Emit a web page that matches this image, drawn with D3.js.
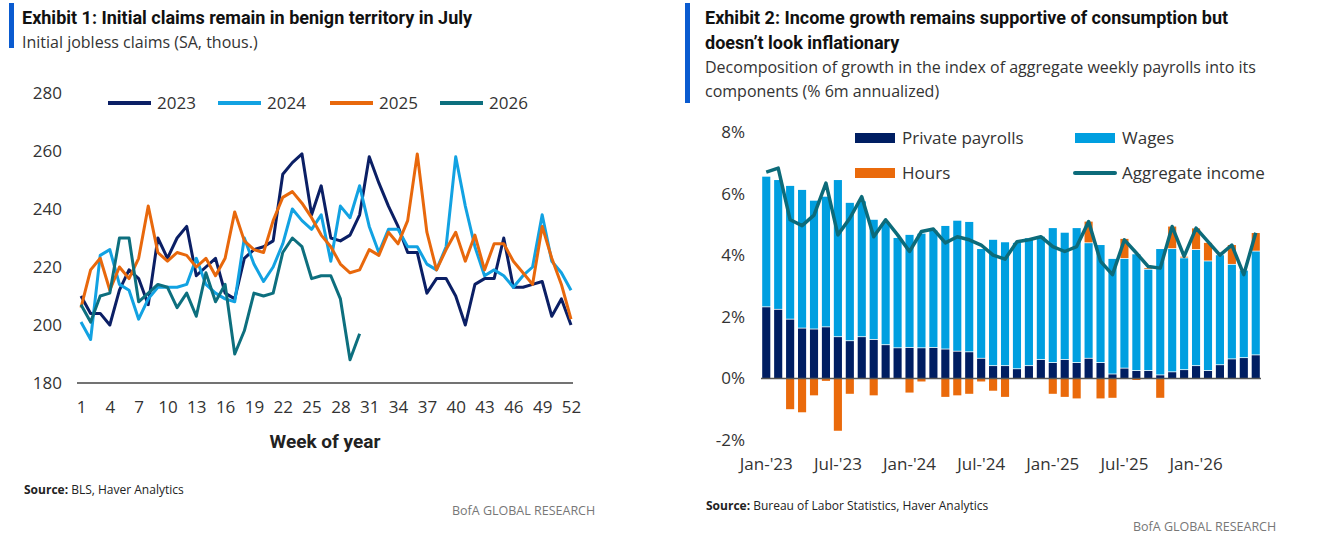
<!DOCTYPE html>
<html><head><meta charset="utf-8">
<script src="https://cdn.jsdelivr.net/npm/d3@7"></script>
<style>
body{margin:0;background:#fff;}
text{font-family:"Open Sans",Roboto,sans-serif;fill:#222;}
.title{font-family:"Liberation Sans Narrow","Roboto",sans-serif;font-weight:bold;font-size:18px;fill:#111;}
.sub{font-size:16px;fill:#333;}
.tick text{font-size:17px;fill:#333;}
.src{font-size:12px;fill:#222;}
.bofa{font-size:12.5px;fill:#777;}
.leg{font-size:17px;fill:#333;}
</style></head><body>
<script>
// ---- Exhibit 1 data: initial claims, thousands, by week of year
const weeks = d3.range(1, 53);
const claims2023 = [210,204,204,200,212,219,216,207,230,223,230,234,217,220,223,211,209,223,226,227,229,252,256,259,238,248,230,229,231,238,258,249,241,234,225,225,211,216,216,210,200,214,216,216,230,213,213,214,215,203,209,200];
const claims2024 = [201,195,224,226,214,212,202,209,213,213,213,214,223,214,211,209,208,230,221,215,220,228,240,236,233,238,222,241,237,248,234,225,233,233,227,227,221,219,227,258,241,227,217,219,217,213,217,220,238,222,218,212];
const claims2025 = [206,219,223,212,220,216,223,241,225,222,225,224,220,223,217,223,239,229,226,225,236,244,246,242,237,231,227,221,218,219,226,224,232,228,236,259,232,219,226,232,222,231,219,228,228,222,218,214,234,223,214,202];
const claims2026 = [207,201,210,211,230,230,208,211,214,213,206,211,203,218,208,214,190,198,211,210,211,225,230,227,216,217,217,209,188,197];
const yearNames = ["2023","2024","2025","2026"];
const yearColors = ["#0b1f65","#12a2e2","#e8680c","#0d6f7e"];
const claimTicks = [180,200,220,240,260,280];
const weekTicks = [1,4,7,10,13,16,19,22,25,28,31,34,37,40,43,46,49,52];

// ---- Exhibit 2 data: % 6m annualized, monthly Jan-23 .. Jun-26
const months = d3.range(42).map(i => new Date(2023, i, 1));
const privatePayrolls = [2.31,2.23,1.91,1.62,1.59,1.66,1.34,1.21,1.34,1.25,1.08,0.98,0.99,0.98,0.99,0.94,0.87,0.85,0.64,0.40,0.40,0.30,0.40,0.60,0.50,0.60,0.50,0.64,0.50,0.13,0.32,0.24,0.24,0.10,0.20,0.27,0.40,0.24,0.43,0.62,0.66,0.75];
const wages = [4.24,4.21,4.34,4.50,4.18,4.24,5.10,4.49,4.41,3.90,3.97,3.58,3.67,3.72,3.81,4.01,4.25,4.23,3.56,4.10,4.02,4.10,4.15,4.00,4.38,4.13,4.38,3.75,3.83,3.75,3.56,3.79,3.29,4.10,4.00,3.63,3.77,3.56,3.57,3.07,2.84,3.37];
const hours = [0,0,-1.0,-1.1,-0.55,-0.08,-1.7,-0.5,0,-0.55,0,0,-0.46,-0.1,0,-0.6,-0.55,-0.5,-0.1,-0.4,-0.6,0,0,0,-0.5,-0.6,-0.65,0.7,-0.65,-0.63,0.65,-0.05,0.05,-0.63,0.73,0.05,0.7,0.6,0,0.64,0,0.6];
const aggregateIncome = [6.7,6.83,5.15,4.96,5.3,6.34,4.66,5.2,5.9,4.6,5.15,4.66,4.12,4.77,4.85,4.4,4.6,4.5,4.33,4.0,3.87,4.44,4.5,4.6,4.28,4.12,4.28,5.09,3.8,3.37,4.5,4.07,3.63,3.58,4.93,3.96,4.88,4.44,4.0,4.33,3.37,4.73];
const pctTicks = [-2,0,2,4,6,8];
const monthTickIdx = [0,6,12,18,24,30,36];
const barColors = {priv:"#001e62", wage:"#009fe0", hours:"#ea6a0b"};
const lineColor = "#0c6b7a";

const svg = d3.select("body").append("svg").attr("width",1317).attr("height",538);

// ---------- headers
function header(x, barX, barH, titles, subs){
  svg.append("rect").attr("x",barX).attr("y",3).attr("width",5).attr("height",barH).attr("fill","#0a5bd0");
  titles.forEach((t,i)=>svg.append("text").attr("class","title").attr("x",x).attr("y",24+i*25).text(t));
  const y0 = 24+titles.length*25 - 1;
  subs.forEach((t,i)=>svg.append("text").attr("class","sub").attr("x",x).attr("y",y0+i*24).text(t));
}
header(22, 9, 45, ["Exhibit 1: Initial claims remain in benign territory in July"], ["Initial jobless claims (SA, thous.)"]);
header(705, 685, 100, ["Exhibit 2: Income growth remains supportive of consumption but","doesn\u2019t look inflationary"],
  ["Decomposition of growth in the index of aggregate weekly payrolls into its","components (% 6m annualized)"]);

// ---------- Exhibit 1
const x1 = d3.scaleLinear().domain([1,52]).range([81,571]);
const y1 = d3.scaleLinear().domain([180,280]).range([383,93]);
const g1 = svg.append("g");
g1.append("g").attr("transform","translate(62,0)")
  .call(d3.axisLeft(y1).tickValues(claimTicks).tickSize(0).tickPadding(0))
  .call(g=>g.select(".domain").remove())
  .selectAll("text").attr("text-anchor","end");
g1.append("g").attr("transform","translate(0,383)")
  .call(d3.axisBottom(x1).tickValues(weekTicks).tickSize(0).tickPadding(18))
  .call(g=>g.select(".domain").attr("stroke","#444").attr("stroke-width",1.5).attr("d","M77,0H573"));
const line1 = d3.line().x((d,i)=>x1(weeks[i])).y(d=>y1(d));
[claims2023,claims2024,claims2025,claims2026].forEach((s,k)=>{
  g1.append("path").datum(s).attr("d",line1).attr("fill","none")
    .attr("stroke",yearColors[k]).attr("stroke-width",3).attr("stroke-linejoin","round");
});
const legX = [108,218,330,440];
yearNames.forEach((n,k)=>{
  g1.append("line").attr("x1",legX[k]).attr("x2",legX[k]+43).attr("y1",103).attr("y2",103)
    .attr("stroke",yearColors[k]).attr("stroke-width",4);
  g1.append("text").attr("class","leg").attr("x",legX[k]+49).attr("y",109).text(n);
});
g1.append("text").attr("x",325).attr("y",448).attr("text-anchor","middle")
  .style("font-family","'Liberation Sans Narrow',Roboto,sans-serif").style("font-weight","bold").style("font-size","19px").attr("fill","#111").text("Week of year");
const s1 = g1.append("text").attr("class","src").attr("x",24).attr("y",494);
s1.append("tspan").style("font-weight","bold").text("Source:");
s1.append("tspan").text(" BLS, Haver Analytics");
g1.append("text").attr("class","bofa").attr("x",452).attr("y",515).text("BofA GLOBAL RESEARCH");

// ---------- Exhibit 2
const x2 = d3.scaleBand().domain(months).range([761,1261]).paddingInner(0.32).paddingOuter(0.1);
const y2 = d3.scaleLinear().domain([-2,8]).range([440,132]);
const g2 = svg.append("g");
g2.append("g").attr("transform","translate(745,0)")
  .call(d3.axisLeft(y2).tickValues(pctTicks).tickFormat(d=>d+"%").tickSize(0).tickPadding(0))
  .call(g=>g.select(".domain").remove());
const fmtM = d3.timeFormat("%b-'%y");
g2.append("g").attr("transform","translate(0,458)")
  .call(d3.axisBottom(x2).tickValues(monthTickIdx.map(i=>months[i])).tickFormat(fmtM).tickSize(0).tickPadding(0))
  .call(g=>g.select(".domain").remove());
const bw = x2.bandwidth();
months.forEach((m,i)=>{
  const bx = x2(m);
  g2.append("rect").attr("x",bx).attr("width",bw).attr("y",y2(privatePayrolls[i])).attr("height",y2(0)-y2(privatePayrolls[i])).attr("fill",barColors.priv);
  const top = privatePayrolls[i]+wages[i];
  g2.append("rect").attr("x",bx).attr("width",bw).attr("y",y2(top)).attr("height",y2(privatePayrolls[i])-y2(top)-0.8).attr("fill",barColors.wage);
  if(hours[i]>0){
    g2.append("rect").attr("x",bx).attr("width",bw).attr("y",y2(top+hours[i])).attr("height",y2(top)-y2(top+hours[i])-0.8).attr("fill",barColors.hours);
  } else if(hours[i]<0){
    g2.append("rect").attr("x",bx).attr("width",bw).attr("y",y2(0)).attr("height",y2(hours[i])-y2(0)).attr("fill",barColors.hours);
  }
});
g2.append("line").attr("x1",761).attr("x2",1261).attr("y1",y2(0)).attr("y2",y2(0)).attr("stroke","#555").attr("stroke-width",1.5);
const line2 = d3.line().x((d,i)=>x2(months[i])+bw/2).y(d=>y2(d));
g2.append("path").datum(aggregateIncome).attr("d",line2).attr("fill","none").attr("stroke",lineColor).attr("stroke-width",3.5).attr("stroke-linejoin","round");
// legend
const leg2 = [
  {x:855,y:138,t:"Private payrolls",c:barColors.priv,type:"rect"},
  {x:1075,y:138,t:"Wages",c:barColors.wage,type:"rect"},
  {x:855,y:173,t:"Hours",c:barColors.hours,type:"rect"},
  {x:1075,y:173,t:"Aggregate income",c:lineColor,type:"line"}
];
leg2.forEach(l=>{
  if(l.type==="rect") g2.append("rect").attr("x",l.x).attr("y",l.y-5).attr("width",40).attr("height",10).attr("fill",l.c);
  else g2.append("line").attr("x1",l.x).attr("x2",l.x+40).attr("y1",l.y).attr("y2",l.y).attr("stroke",l.c).attr("stroke-width",4).attr("stroke-linecap","round");
  g2.append("text").attr("class","leg").attr("x",l.x+47).attr("y",l.y+6).text(l.t);
});
const s2 = g2.append("text").attr("class","src").attr("x",706).attr("y",510);
s2.append("tspan").style("font-weight","bold").text("Source:");
s2.append("tspan").text(" Bureau of Labor Statistics, Haver Analytics");
g2.append("text").attr("class","bofa").attr("x",1133).attr("y",531).text("BofA GLOBAL RESEARCH");
</script></body></html>
